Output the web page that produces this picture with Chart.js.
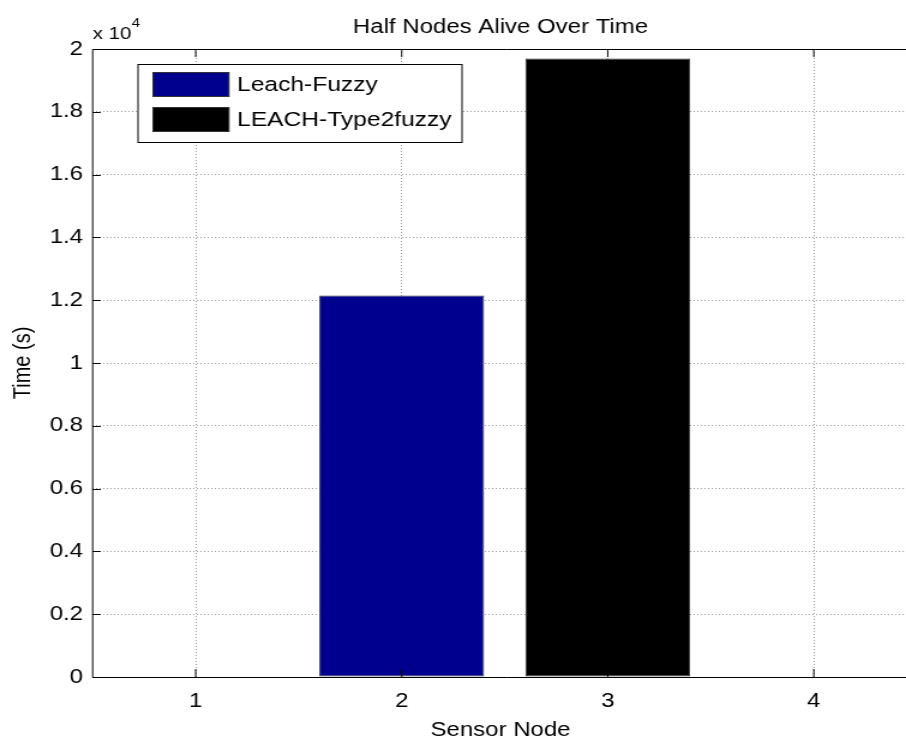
<!DOCTYPE html>
<html>
<head>
<meta charset="utf-8">
<script src="https://cdn.jsdelivr.net/npm/chart.js@4"></script>
<style>
  html, body { margin: 0; padding: 0; background: #fff; overflow: hidden; width: 906px; height: 745px; }
  #clip { width: 906px; height: 745px; overflow: hidden; position: relative; }
  #wrap { width: 767px; height: 745px; transform: scaleX(1.2); transform-origin: 0 0; position: absolute; left: 0; top: 0; }
</style>
</head>
<body>
<div id="clip"><div id="wrap"><canvas id="c" width="767" height="745"></canvas></div></div>
<script>
// ---- data ----
const categories = ['1', '2', '3', '4'];
const leachFuzzy = [0, 12150, 0, 0];
const leachType2 = [0, 0, 19700, 0];
const seriesNames = ['Leach-Fuzzy', 'LEACH-Type2fuzzy'];
const yTicks = [0, 2000, 4000, 6000, 8000, 10000, 12000, 14000, 16000, 18000, 20000];

const FONT = "'Liberation Sans', Arial, Helvetica, sans-serif";
const blue = '#00008F';
const SX = 1.2; // horizontal stretch of the page

const matlabPlugin = {
  id: 'matlab',
  afterDatasetsDraw(chart) {
    const { ctx, chartArea: a, scales } = chart;
    ctx.save();
    // axes lines (top, left, bottom; right side lies outside the picture)
    ctx.strokeStyle = '#000';
    ctx.lineWidth = 1;
    const top = Math.round(a.top) + 0.5, bot = Math.round(a.bottom) + 0.5;
    ctx.beginPath();
    ctx.moveTo(a.right + 5, top); ctx.lineTo(a.left, top);
    ctx.lineTo(a.left, bot); ctx.lineTo(a.right + 5, bot);
    ctx.stroke();
    // inward tick marks
    const tl = 8;
    ctx.beginPath();
    scales.x.ticks.forEach((t, i) => {
      const x = scales.x.getPixelForTick(i);
      ctx.moveTo(x, a.bottom); ctx.lineTo(x, a.bottom - tl);
      ctx.moveTo(x, a.top); ctx.lineTo(x, a.top + tl);
    });
    scales.y.ticks.forEach((t, i) => {
      const y = Math.round(scales.y.getPixelForTick(i)) + 0.5;
      ctx.moveTo(a.left, y); ctx.lineTo(a.left + tl / SX, y);
    });
    ctx.stroke();

    // title and axis labels
    ctx.fillStyle = '#000';
    ctx.textAlign = 'center';
    ctx.textBaseline = 'middle';
    ctx.font = '20px ' + FONT;
    const cx = (a.left + a.right) / 2;
    ctx.fillText('Half Nodes Alive Over Time', cx - 3.5, 27);
    ctx.fillText('Sensor Node', cx - 3.5, 730);
    ctx.save();
    ctx.translate(19.5, (a.top + a.bottom) / 2);
    ctx.rotate(-Math.PI / 2);
    ctx.fillText('Time (s)', 0, 0);
    ctx.restore();

    // exponent label
    ctx.textAlign = 'left';
    ctx.textBaseline = 'alphabetic';
    ctx.font = '17px ' + FONT;
    ctx.fillText('x 10', a.left, 39);
    const w = ctx.measureText('x 10').width;
    ctx.font = '12.5px ' + FONT;
    ctx.fillText('4', a.left + w + 0.5, 27);

    // legend
    const lx = 115, ly = 64, lw = 270, lh = 78;
    ctx.fillStyle = '#fff';
    ctx.fillRect(lx, ly, lw, lh);
    ctx.strokeStyle = '#000';
    ctx.strokeRect(lx, ly + 0.5, lw, lh);
    chart.data.datasets.forEach((ds, i) => {
      const sy = ly + 8 + i * 35;
      ctx.fillStyle = ds.backgroundColor;
      ctx.fillRect(127.5, sy, 63.3, 25);
      ctx.strokeStyle = '#333';
      ctx.strokeRect(127.5, sy + 0.5, 63.3, 24);
      ctx.fillStyle = '#000';
      ctx.font = '20.5px ' + FONT;
      ctx.textBaseline = 'middle';
      ctx.fillText(ds.label, 197.5, sy + 13);
    });
    ctx.restore();
  }
};

new Chart(document.getElementById('c'), {
  type: 'bar',
  data: {
    labels: categories,
    datasets: [
      { label: seriesNames[0], data: leachFuzzy, backgroundColor: blue, borderColor: '#333', borderWidth: 1, borderSkipped: false },
      { label: seriesNames[1], data: leachType2, backgroundColor: '#000000', borderColor: '#333', borderWidth: 1, borderSkipped: false }
    ]
  },
  options: {
    responsive: false,
    animation: false,
    events: [],
    layout: { padding: { left: 0, top: 49, right: 3, bottom: 0 } },
    plugins: { legend: { display: false }, tooltip: { enabled: false }, title: { display: false } },
    datasets: { bar: { grouped: false, categoryPercentage: 1, barPercentage: 0.8 } },
    scales: {
      x: {
        offset: true,
        grid: { display: true, offset: false, color: '#9a9a9a', drawTicks: false, lineWidth: 1 },
        border: { display: false, dash: [1, 2] },
        ticks: { color: '#000', font: { family: FONT, size: 20 }, padding: 12, maxRotation: 0 },
        afterFit(s) { s.height = 68; }
      },
      y: {
        min: 0, max: 20000,
        afterBuildTicks(s) { s.ticks = yTicks.map(v => ({ value: v })); },
        grid: { color: '#9a9a9a', drawTicks: false, lineWidth: 1 },
        border: { display: false, dash: [1, 2] },
        ticks: {
          color: '#000', font: { family: FONT, size: 20 }, padding: 8,
          callback: v => String(+(v / 10000).toFixed(1))
        },
        afterFit(s) { s.width = 77.2; }
      }
    }
  },
  plugins: [matlabPlugin]
});
</script>
</body>
</html>
